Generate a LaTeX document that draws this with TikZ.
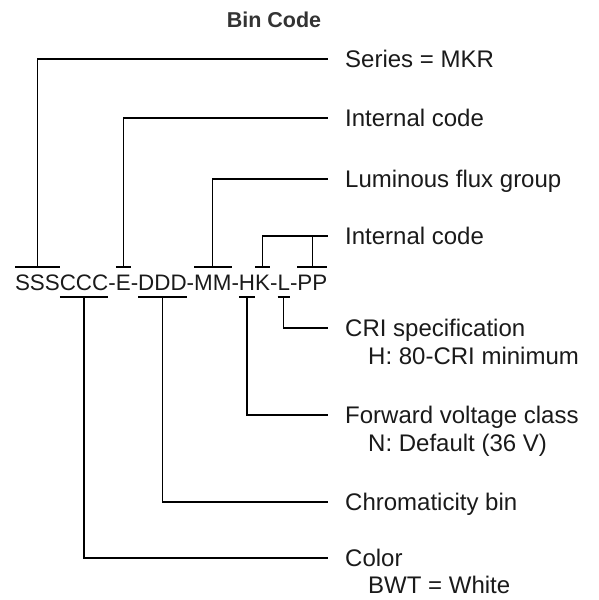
\documentclass[tikz,border=0pt]{standalone}
\usepackage{fontspec}
\setmainfont{Liberation Sans}
\usepackage{xcolor}
\usetikzlibrary{positioning}
\definecolor{labelink}{HTML}{1A1A1A}
\definecolor{titleink}{HTML}{333333}

\begin{document}
\begin{tikzpicture}[
    x=1pt, y=1pt,
    codepart/.style={inner xsep=0pt, inner ysep=7pt, text height=16pt, text depth=0pt, outer sep=0pt, font=\fontsize{22.4}{26}\selectfont, text=labelink},
    lbl/.style={anchor=west, inner sep=0pt, text height=17pt, text depth=0pt, font=\fontsize{24}{28}\selectfont, text=labelink},
    sub/.style={lbl},
    lead/.style={draw=black, line width=1.2pt, shorten >=17pt},
    tick/.style={draw=black, line width=1.2pt}
]
\useasboundingbox (0,0) rectangle (598,-600);

% Title
\node[font=\bfseries\fontsize{21.5}{25}\selectfont, text=titleink] (title) at (274,-20) {Bin Code};

% Code string, one node per segment
\node[codepart, anchor=base west] (sss) at (15,-290) {SSS};
\node[codepart, base right=0pt of sss] (ccc) {CCC};
\node[codepart, base right=0pt of ccc] (hyA) {-};
\node[codepart, base right=0pt of hyA] (e) {E};
\node[codepart, base right=0pt of e] (hyB) {-};
\node[codepart, base right=0pt of hyB] (ddd) {DDD};
\node[codepart, base right=0pt of ddd] (hyC) {-};
\node[codepart, base right=0pt of hyC] (mm) {MM};
\node[codepart, base right=0pt of mm] (hyD) {-};
\node[codepart, base right=0pt of hyD] (h) {H};
\node[codepart, base right=0pt of h] (k) {K};
\node[codepart, base right=0pt of k] (hyE) {-};
\node[codepart, base right=0pt of hyE] (l) {L};
\node[codepart, base right=0pt of l] (hyF) {-};
\node[codepart, base right=0pt of hyF] (pp) {PP};

% Labels
\node[lbl] (series) at (345,-59) {Series = MKR};
\node[lbl] (intA) at (345,-118) {Internal code};
\node[lbl] (flux) at (345,-179) {Luminous flux group};
\node[lbl] (intB) at (345,-236) {Internal code};
\node[lbl] (cri) at (345,-328) {CRI specification};
\node[sub] (crinote) at ([shift={(23,-28)}]cri.west) {H: 80-CRI minimum};
\node[lbl] (fwd) at (345,-415) {Forward voltage class};
\node[sub] (fwdnote) at ([shift={(23,-28)}]fwd.west) {N: Default (36 V)};
\node[lbl] (chrom) at (345,-502) {Chromaticity bin};
\node[lbl] (color) at (345,-558) {Color};
\node[sub] (colornote) at ([shift={(23,-27)}]color.west) {BWT = White};

% Bars over and under the segments
\foreach \seg in {sss,e,mm,k,pp}
    \draw[tick] (\seg.north west) -- (\seg.north east);
\foreach \seg in {ccc,ddd,h,l}
    \draw[tick] (\seg.south west) -- (\seg.south east);

% Leaders from the top
\draw[lead] (sss.north) |- (series.west);
\draw[lead] (e.north) |- (intA.west);
\draw[lead] (mm.north) |- (flux.west);
\draw[lead] (k.north) |- (intB.west);
\draw[tick] (pp.north) -- (pp.north |- intB.west);

% Leaders from the bottom
\draw[lead] (l.south) |- (cri.west);
\draw[lead] (h.south) |- (fwd.west);
\draw[lead] (ddd.south) |- (chrom.west);
\draw[lead] (ccc.south) |- (color.west);

\end{tikzpicture}
\end{document}
